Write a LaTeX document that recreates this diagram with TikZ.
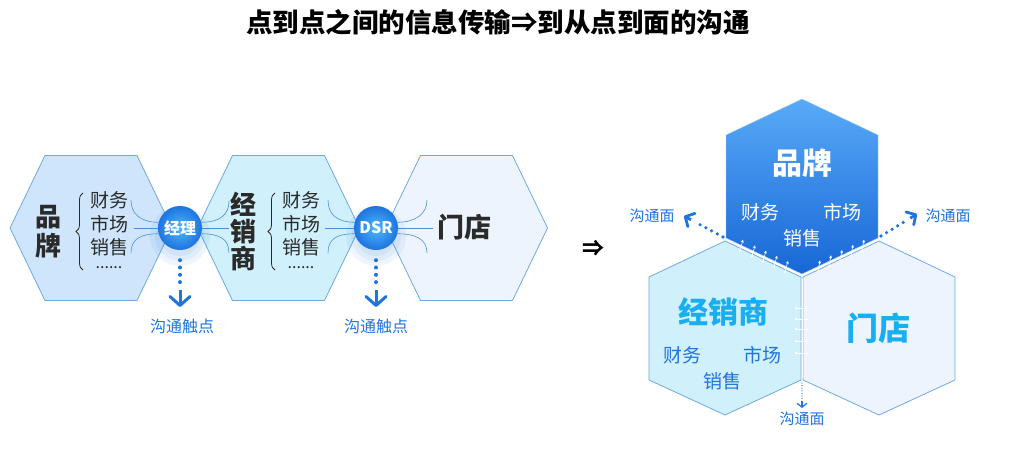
\documentclass[tikz,border=0pt]{standalone}
\usepackage{fontspec}
\setmainfont{Noto Sans CJK SC}
\usetikzlibrary{positioning,calc,decorations.pathreplacing,arrows.meta}
\definecolor{edgeblue}{HTML}{6FA8E6}
\definecolor{hexA}{HTML}{CFE5FB}
\definecolor{hexB}{HTML}{D0F0FB}
\definecolor{hexC}{HTML}{EEF4FD}
\definecolor{fanblue}{HTML}{4A8EDB}
\definecolor{linkblue}{HTML}{1F74DE}
\definecolor{brandtop}{HTML}{58AAF8}
\definecolor{brandbot}{HTML}{1767D6}
\definecolor{cyantxt}{HTML}{19AEEF}
\definecolor{txtgray}{HTML}{2A2A2A}
\newcommand{\fs}[1]{\fontsize{#1}{#1}\selectfont}

\begin{document}
\begin{tikzpicture}
	[x=1pt,y=-1pt,every node/.style={inner sep=0pt,text=txtgray},
	hexline/.style={draw=edgeblue,line width=0.8pt},
	item/.style={font=\fs{19}},
	vbig/.style={font=\fs{26}\bfseries,align=center},
	ball/.style={circle,minimum size=44pt,inner color=cyan!60!blue!70,outer color=linkblue,text=white,font=\fs{16}\bfseries},
	fan/.style={draw=fanblue,line width=0.6pt},
	dots/.style={draw=linkblue,line width=4pt,line cap=round,dash pattern=on 0pt off 7.3pt},
	touchhead/.style={draw=linkblue,line width=3pt,-{Straight Barb[length=9pt,width=20pt,round]}},
	facehead/.style={draw=linkblue,line width=2.8pt,-{Straight Barb[length=7pt,width=15pt,round]}},
	tiny/.style={draw=white,line width=0.6pt,-{Stealth[length=3pt,width=3pt]}},
	lbl/.style={text=linkblue,font=\fs{16}}]
	\useasboundingbox (0,0) rectangle (1016,448);

	% title
	\node[text=black,font=\fs{26.5}\bfseries] (title) at (498,22) {点到点之间的信息传输⇒到从点到面的沟通};

	% left: three hexagons in a row
	\foreach \cx/\col in {91/hexA,278.5/hexB,466.5/hexC}{
		\draw[hexline,fill=\col] (\cx-81,228) -- (\cx-46,155.5) -- (\cx+46,155.5)
			-- (\cx+81,228) -- (\cx+46,300.5) -- (\cx-46,300.5) -- cycle;
	}
	\node[vbig] (brandL) at (48,232) {品\\[3pt]牌};
	\node[vbig] (dealerL) at (243,231) {经\\[1pt]销\\[1pt]商};
	\node[font=\fs{27}\bfseries] (storeL) at (464,227) {门店};

	\foreach \x/\n in {109/a,301/b}{
		\node[item] (fin\n) at (\x,200) {财务};
		\node[item] (mkt\n) at (\x,224) {市场};
		\node[item] (sal\n) at (\x,247) {销售};
		\node[item,font=\fs{16}] (etc\n) at (\x,268) {......};
	}
	\draw[decorate,decoration={brace,amplitude=7pt},thick,txtgray] (83,270) -- (83,193);
	\draw[decorate,decoration={brace,amplitude=7pt},thick,txtgray] (275,270) -- (275,193);

	% glow under the circles
	\foreach \r in {30,25,20}{
		\fill[linkblue,opacity=0.07] (180,236) circle (\r pt);
		\fill[linkblue,opacity=0.07] (376,236) circle (\r pt);
	}

	% fan lines to the circles
	\coordinate (ma1) at (131,200); \coordinate (ma2) at (134,228); \coordinate (ma3) at (131,253);
	\coordinate (mb1) at (229,201); \coordinate (mb2) at (229,228); \coordinate (mb3) at (229,253);
	\coordinate (da1) at (328,200); \coordinate (da2) at (325,228); \coordinate (da3) at (328,253);
	\coordinate (db1) at (427,200); \coordinate (db2) at (433,228); \coordinate (db3) at (427,253);

	\node[ball] (mgr) at (180,228) {经理};
	\node[ball] (dsr) at (376,228) {DSR};

	\draw[fan] (mgr.165) .. controls +(-18,0) and +(0,14) .. (ma1);
	\draw[fan] (mgr.west) -- (ma2);
	\draw[fan] (mgr.195) .. controls +(-18,0) and +(0,-14) .. (ma3);
	\draw[fan] (mgr.15) .. controls +(18,0) and +(0,14) .. (mb1);
	\draw[fan] (mgr.east) -- (mb2);
	\draw[fan] (mgr.-15) .. controls +(18,0) and +(0,-14) .. (mb3);
	\draw[fan] (dsr.165) .. controls +(-18,0) and +(0,14) .. (da1);
	\draw[fan] (dsr.west) -- (da2);
	\draw[fan] (dsr.195) .. controls +(-18,0) and +(0,-14) .. (da3);
	\draw[fan] (dsr.15) .. controls +(18,0) and +(0,14) .. (db1);
	\draw[fan] (dsr.east) -- (db2);
	\draw[fan] (dsr.-15) .. controls +(18,0) and +(0,-14) .. (db3);

	% touch points
	\node[lbl] (tpA) at (182,326) {沟通触点};
	\node[lbl] (tpB) at (376,326) {沟通触点};
	\coordinate (tipA) at (180,307); \coordinate (tipB) at (376,307);
	\draw[dots] (mgr.south) ++(0,10) -- ++(0,23);
	\draw[dots] (dsr.south) ++(0,10) -- ++(0,23);
	\draw[touchhead] ($(tipA)+(0,-17)$) -- (tipA);
	\draw[touchhead] ($(tipB)+(0,-17)$) -- (tipB);

	\node[font=\fs{22}\bfseries,text=black] (imply) at (593,248) {⇒};

	% right: three hexagons tiled
	\draw[hexline,fill=hexB] (725,241) -- (801,277) -- (801,380) -- (725,415) -- (649,380) -- (649,277) -- cycle;
	\draw[hexline,fill=hexC] (879,241) -- (955,277) -- (955,380) -- (879,415) -- (803,380) -- (803,277) -- cycle;
	\draw[draw=edgeblue!60,top color=brandtop,bottom color=brandbot] (802,99) -- (878,135) -- (878,238) -- (802,274) -- (726,238) -- (726,135) -- cycle;

	\node[text=white,font=\fs{30}\bfseries] (brandR) at (802,163) {品牌};
	\node[text=white,font=\fs{19}] (finR) at (760,212) {财务};
	\node[text=white,font=\fs{19}] (mktR) at (842,212) {市场};
	\node[text=white,font=\fs{19}] (salR) at (802,238) {销售};

	\node[text=cyantxt,font=\fs{30}\bfseries] (dealerR) at (723,312) {经销商};
	\node[text=linkblue,font=\fs{19}] (finD) at (682,355) {财务};
	\node[text=linkblue,font=\fs{19}] (mktD) at (762,355) {市场};
	\node[text=linkblue,font=\fs{19}] (salD) at (722,381) {销售};
	\node[text=cyantxt,font=\fs{32}\bfseries] (storeR) at (878,328) {门店};

	% small arrows across the shared edges
	\foreach \x in {740,752,763,774,785}{
		\fill[white] (\x,{239+(\x-726)*36/76+5}) circle (1.2pt);
		\draw[tiny] (\x,{239+(\x-726)*36/76+5}) -- ++(3,-11);
	}
	\foreach \x in {818,829,840,851,862}{
		\fill[white] (\x,{274-(\x-802)*36/76+5}) circle (1.2pt);
		\draw[tiny] (\x,{274-(\x-802)*36/76+5}) -- ++(2,-11);
	}
	\draw[white,line width=0.8pt] (802,279) -- (802,378);
	\foreach \y in {308,319,329,341,353}{
		\fill[white] (796,\y) circle (1.2pt);
		\draw[white,line width=0.6pt] (796,\y) -- (808,\y);
	}

	% communication faces
	\node[lbl,font=\fs{15}] (faceL) at (652,216) {沟通面};
	\node[lbl,font=\fs{15}] (faceR) at (948,216) {沟通面};
	\node[lbl,font=\fs{15}] (faceB) at (802,419) {沟通面};
	\coordinate (fl) at (723,237); \coordinate (fr) at (881,236); \coordinate (fb) at (802,383);
	\coordinate (hl) at (684,216); \coordinate (hr) at (917,214); \coordinate (hb) at (802,408);
	\draw[dots,line width=3.6pt,dash pattern=on 0pt off 6.5pt] (fl) -- ($(hl)!13pt!(fl)$);
	\draw[dots,line width=3.6pt,dash pattern=on 0pt off 6.5pt] (fr) -- ($(hr)!13pt!(fr)$);
	\draw[facehead] ($(hl)!8pt!(fl)$) -- (hl);
	\draw[facehead] ($(hr)!8pt!(fr)$) -- (hr);
	\draw[dots,line width=1.3pt,dash pattern=on 0pt off 2.6pt] (fb) -- ($(hb)+(0,-6)$);
	\draw[facehead,line width=1.2pt,-{Straight Barb[length=4pt,width=10pt]}] ($(hb)+(0,-7)$) -- (hb);
\end{tikzpicture}
\end{document}
